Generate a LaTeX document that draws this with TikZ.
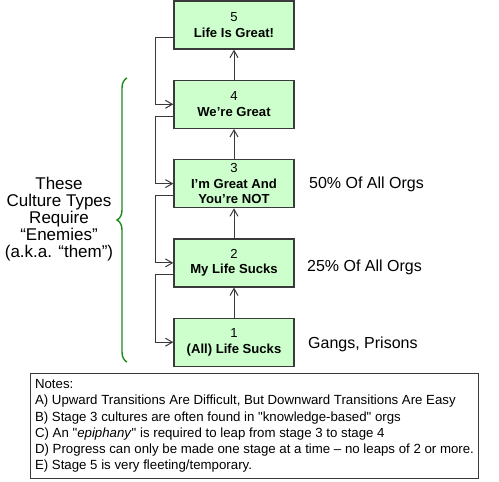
\documentclass[tikz,border=0pt]{standalone}
\usepackage{fontspec}
\setmainfont{Liberation Sans}[Ligatures=TeXOff]
\usetikzlibrary{positioning,arrows.meta,decorations.pathreplacing}
\definecolor{stagegreen}{HTML}{CCFFCC}
\definecolor{edgegray}{HTML}{3A3A3A}
\definecolor{bracegreen}{HTML}{1A8A1A}

\begin{document}
\begin{tikzpicture}[x=1pt,y=1pt,
    stage/.style={draw=edgegray,line width=1.3pt,fill=stagegreen,minimum width=120pt,
      minimum height=48pt,inner sep=0pt,align=center,font=\fontsize{13.1}{15.5}\selectfont},
    up/.style={-{Straight Barb[length=7pt,width=8pt]},draw=edgegray,line width=1pt},
    down/.style={-{Straight Barb[length=7pt,width=8pt]},draw=edgegray,line width=1pt},
    orgtext/.style={font=\fontsize{16}{18}\selectfont}]
    \useasboundingbox (0,0) rectangle (499,-482);
    % the five stages, bottom to top
    \node[stage] (s5) at (234,-25) {5\\\textbf{Life Is Great!}};
    \node[stage,below=30pt of s5] (s4) {4\\\textbf{We’re Great}};
    \node[stage,below=30pt of s4] (s3) {3\\\textbf{I’m Great And}\\\textbf{You’re NOT}};
    \node[stage,below=30pt of s3] (s2) {2\\\textbf{My Life Sucks}};
    \node[stage,below=30pt of s2] (s1) {1\\\textbf{(All) Life Sucks}};
    % upward transitions
    \draw[up] (s1) -- (s2);
    \draw[up] (s2) -- (s3);
    \draw[up] (s3) -- (s4);
    \draw[up] (s4) -- (s5);
    % downward transitions
    \draw[down] ([yshift=-12pt]s5.west) -- ++(-18,0) |- (s4.west);
    \draw[down] ([yshift=-12pt]s4.west) -- ++(-18,0) |- (s3.west);
    \draw[down] ([yshift=-12pt]s3.west) -- ++(-18,0) |- (s2.west);
    \draw[down] ([yshift=-12pt]s2.west) -- ++(-18,0) |- (s1.west);
    % brace and its text
    \coordinate (bracebot) at (127,-362);
    \coordinate (bracetop) at (127,-78);
    \draw[decorate,decoration={brace,amplitude=10pt,aspect=0.5},draw=bracegreen,line width=1.4pt]
      (bracebot) -- (bracetop);
    \node[orgtext,align=center,font=\fontsize{17}{17}\selectfont] (enemies) at (59,-219.5)
      {These\\Culture Types\\Require\\“Enemies”\\(a.k.a. “them”)};
    % share of orgs
    \node[orgtext,anchor=west] (p3) at ([xshift=11pt,yshift=-1pt]s3.east) {50\% Of All Orgs};
    \node[orgtext,anchor=west] (p2) at ([xshift=9pt,yshift=-4pt]s2.east) {25\% Of All Orgs};
    \node[orgtext,anchor=west] (p1) at ([xshift=10pt,yshift=-2pt]s1.east) {Gangs, Prisons};
    % notes
    \node[draw=edgegray,line width=1pt,anchor=north west,minimum width=448pt,minimum height=105pt,
      inner sep=0pt,align=left,font=\fontsize{13.25}{16.3}\selectfont] (notes) at (30,-373)
      {Notes:\\
       A) Upward Transitions Are Difficult, But Downward Transitions Are Easy\\
       B) Stage 3 cultures are often found in "knowledge-based" orgs\\
       C) An "\textit{epiphany}" is required to leap from stage 3 to stage 4\\
       D) Progress can only be made one stage at a time – no leaps of 2 or more.\\
       E) Stage 5 is very fleeting/temporary.};
\end{tikzpicture}
\end{document}
